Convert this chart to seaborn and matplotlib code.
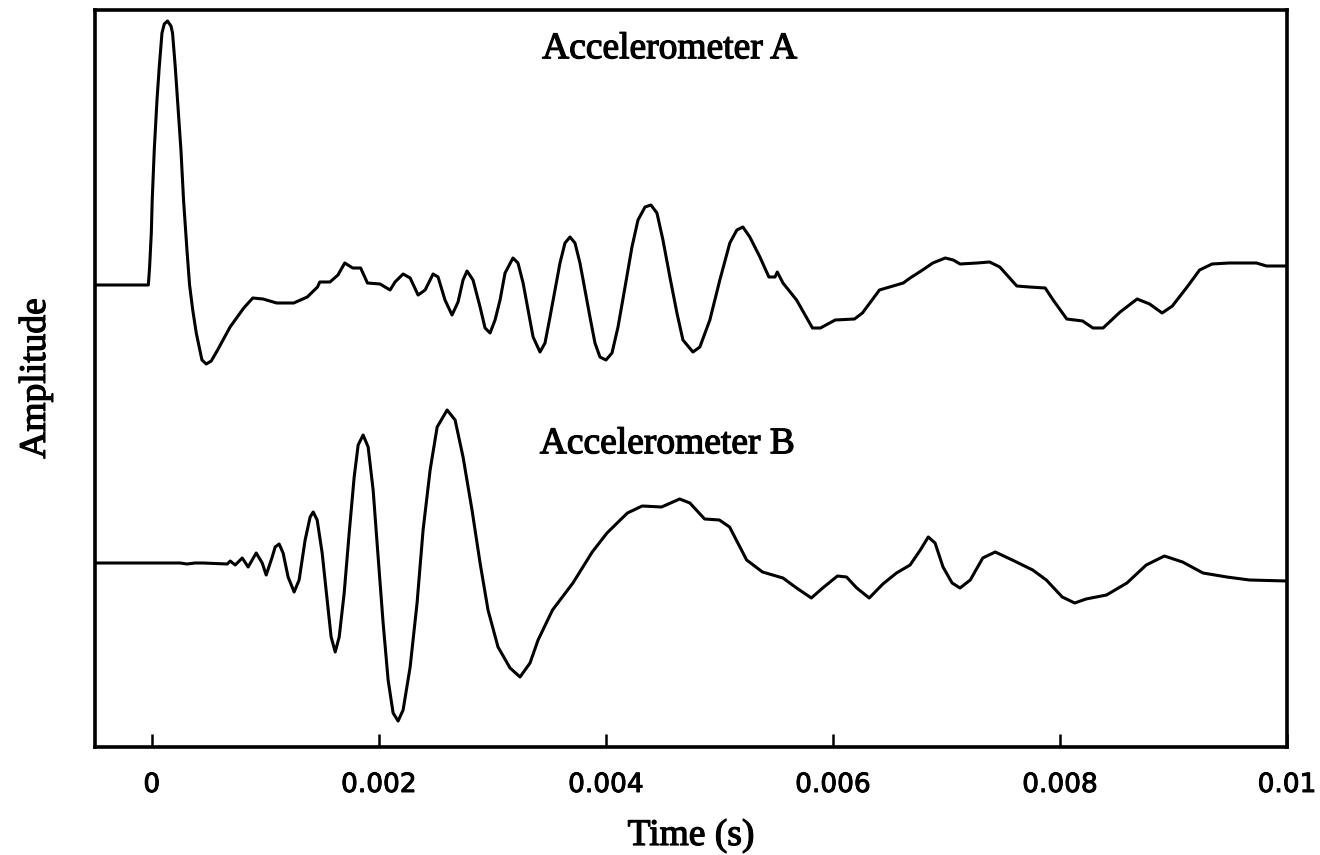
import numpy as np
import pandas as pd
import matplotlib
matplotlib.use("Agg")
import matplotlib.pyplot as plt
import matplotlib.patheffects as pe
import seaborn as sns

# ---- Accelerometer A (time in ms, amplitude in arbitrary units) ----
time_a_ms = [-0.50, -0.03, -0.019, -0.004, 0.004, 0.022, 0.046, 0.066, 0.090, 0.110,
             0.139, 0.169, 0.183, 0.207, 0.227, 0.257, 0.280, 0.310, 0.333, 0.361,
             0.392, 0.442, 0.480, 0.524, 0.58, 0.69, 0.81, 0.89, 0.98, 1.10, 1.25,
             1.37, 1.46, 1.48, 1.57, 1.64, 1.70, 1.77, 1.84, 1.90,
             2.011, 2.099, 2.143, 2.214, 2.276, 2.346, 2.408, 2.478, 2.522, 2.583,
             2.645, 2.698, 2.742, 2.777, 2.830, 2.892, 2.936, 2.980, 3.024, 3.068,
             3.112, 3.182, 3.226, 3.271, 3.315, 3.359, 3.420, 3.464, 3.508, 3.552,
             3.596, 3.640, 3.684, 3.728, 3.772, 3.816, 3.860, 3.904, 3.948, 4.001,
             4.054, 4.107, 4.169, 4.230, 4.283, 4.345, 4.397, 4.450, 4.503, 4.564,
             4.626, 4.679, 4.767, 4.828, 4.916, 5.004, 5.092, 5.154, 5.207, 5.268,
             5.357, 5.436, 5.49, 5.51, 5.56, 5.68, 5.82, 5.89, 6.02, 6.19, 6.26,
             6.41, 6.50, 6.62, 6.68, 6.79, 6.88, 6.99, 7.06, 7.12, 7.27, 7.38,
             7.47, 7.62, 7.73, 7.87, 7.94, 8.06, 8.20, 8.29, 8.38, 8.53, 8.68,
             8.79, 8.90, 8.99, 9.12, 9.23, 9.34, 9.49, 9.73, 9.82, 10.00]
amp_a = [0, 0, 18, 52, 85, 135, 185, 218, 252, 261,
         264, 259, 252, 218, 185, 135, 85, 35, 0, -25,
         -48, -75, -79, -76, -65, -42, -23, -13, -14, -18, -18,
         -12, -2, 3, 3, 10, 22, 17, 17, 2,
         1, -5, 3, 11, 7, -10, -5, 11, 8, -15,
         -30, -17, 5, 14, 5, -22, -43, -48, -35, -15,
         12, 27, 22, 2, -25, -52, -67, -58, -32, -5,
         22, 42, 48, 42, 22, -5, -32, -58, -72, -75,
         -68, -42, -2, 38, 65, 78, 80, 72, 45, 8,
         -28, -55, -67, -62, -35, 5, 42, 55, 58, 48,
         28, 8, 8, 13, 2, -15, -43, -43, -35, -34, -28,
         -5, -2, 2, 7, 15, 22, 27, 25, 21, 22, 23,
         18, -1, -2, -3, -15, -34, -36, -43, -43, -27, -14,
         -19, -28, -21, -2, 15, 21, 22, 22, 19, 19]

# ---- Accelerometer B ----
time_b_ms = [-0.50, 0.25, 0.31, 0.38, 0.45, 0.665, 0.691, 0.735, 0.797, 0.849,
             0.920, 0.973, 1.008, 1.061, 1.087, 1.122, 1.157, 1.201, 1.254, 1.298,
             1.351, 1.395, 1.422, 1.457, 1.501, 1.545, 1.580, 1.616, 1.651, 1.695,
             1.739, 1.783, 1.818, 1.862, 1.906, 1.950, 1.994, 2.038, 2.082, 2.126,
             2.170, 2.214, 2.276, 2.337, 2.390, 2.452, 2.514, 2.602, 2.672, 2.742,
             2.821, 2.892, 2.962, 3.050, 3.156, 3.244, 3.332, 3.403,
             3.53, 3.71, 3.88, 4.01, 4.19, 4.32, 4.49, 4.65, 4.74, 4.87, 5.00, 5.09,
             5.24, 5.38, 5.56, 5.68, 5.81, 5.91, 6.04, 6.12, 6.21, 6.32, 6.44, 6.56,
             6.68, 6.77, 6.84, 6.90, 6.97, 7.05, 7.12, 7.21, 7.32, 7.43, 7.58, 7.76,
             7.88, 8.02, 8.13, 8.23, 8.41, 8.59, 8.76, 8.92, 9.08, 9.26, 9.47, 9.67,
             10.00]
amp_b = [0, 0, -1, 0, 0, -1, 2, -2, 5, -4,
         10, 0, -12, 6, 16, 19, 10, -14, -29, -17,
         23, 46, 51, 43, 10, -37, -74, -89, -74, -30,
         30, 86, 118, 128, 116, 73, 6, -60, -117, -150,
         -158, -147, -104, -40, 33, 93, 136, 153, 143, 106,
         53, 0, -47, -84, -105, -114, -100, -77,
         -47, -20, 11, 30, 50, 57, 56, 64, 60, 44, 43, 36,
         3, -9, -15, -25, -35, -25, -13, -14, -25, -35, -21, -10,
         -2, 13, 26, 20, -4, -20, -25, -17, 5, 11, 3, -7,
         -17, -34, -40, -36, -32, -20, -2, 7, 1, -10, -14, -17,
         -18]

labels = ["Accelerometer A", "Accelerometer B"]
xticks = [0, 0.002, 0.004, 0.006, 0.008, 0.01]
xtick_labels = ["0", "0.002", "0.004", "0.006", "0.008", "0.01"]

# vertical placement of the two traces (layout)
offset_a = 462
offset_b = 184

df_a = pd.DataFrame({"t": np.array(time_a_ms) * 1e-3, "amp": np.array(amp_a) + offset_a})
df_b = pd.DataFrame({"t": np.array(time_b_ms) * 1e-3, "amp": np.array(amp_b) + offset_b})

sns.set_theme(style="white")
plt.rcParams["font.family"] = ["DejaVu Sans"]
plt.rcParams["text.color"] = "black"
plt.rcParams["axes.labelcolor"] = "black"
plt.rcParams["xtick.color"] = "black"

fig = plt.figure(figsize=(13.2, 8.55), dpi=100)
ax = fig.add_axes([95 / 1320, 1 - 747 / 855, (1287 - 95) / 1320, (747 - 10) / 855])

sns.lineplot(data=df_a, x="t", y="amp", ax=ax, color="black", linewidth=2.2,
             estimator=None, sort=False)
sns.lineplot(data=df_b, x="t", y="amp", ax=ax, color="black", linewidth=2.2,
             estimator=None, sort=False)

ax.set_xlim(-0.0005, 0.01)
ax.set_ylim(0, 737)

thick = [pe.withStroke(linewidth=0.9, foreground="black")]
serif = ["Liberation Serif", "DejaVu Serif"]
ax.text(0.00456, 698, labels[0], ha="center", va="center", fontsize=27, family=serif,
        color="black", path_effects=thick)
ax.text(0.00454, 303, labels[1], ha="center", va="center", fontsize=27, family=serif,
        color="black", path_effects=thick)

ax.set_xticks(xticks)
ax.set_xticklabels(xtick_labels, fontsize=19, family=["DejaVu Sans"], color="black")
for lbl in ax.get_xticklabels():
    lbl.set_path_effects([pe.withStroke(linewidth=0.7, foreground="black")])
ax.set_yticks([])
ax.tick_params(axis="x", direction="in", length=9.5, width=1.8, pad=18,
               bottom=True, top=False, colors="black")

ax.set_xlabel("Time (s)", fontsize=27, family=serif, color="black")
ax.xaxis.set_label_coords(0.5, -0.097)
ax.xaxis.label.set_va("top")
ax.xaxis.label.set_path_effects(thick)
ax.set_ylabel("Amplitude", fontsize=27, family=serif, va="center", color="black")
ax.yaxis.set_label_coords(-0.05, 0.5)
ax.yaxis.label.set_path_effects(thick)

for sp in ax.spines.values():
    sp.set_visible(True)
    sp.set_color("black")
    sp.set_linewidth(2.6)

fig.savefig("out.png", dpi=100, facecolor="white")
